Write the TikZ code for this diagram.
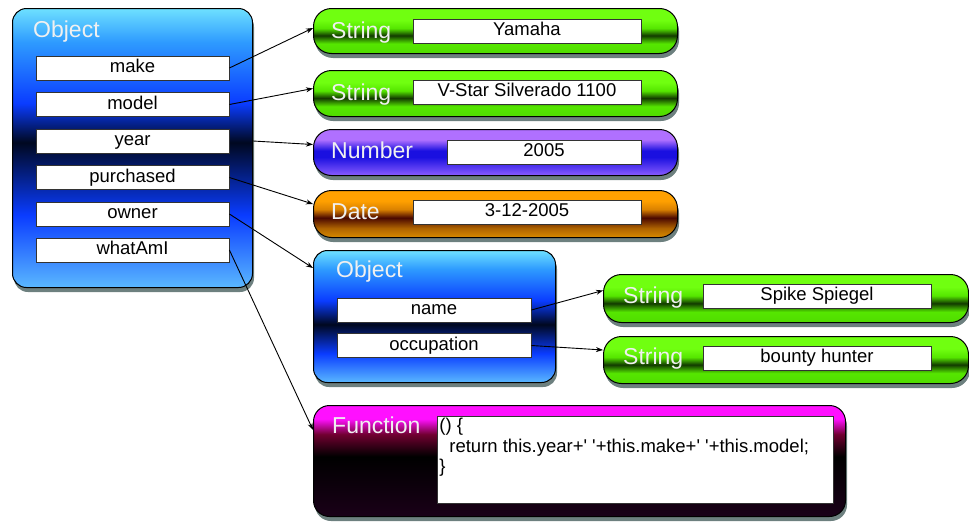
\documentclass[tikz,border=0pt]{standalone}
\usepackage{fontspec}
\setmainfont{Liberation Sans}
\usepackage{xcolor}
\definecolor{objtop}{HTML}{6EE0FF}
\definecolor{objhi}{HTML}{2E9BFF}
\definecolor{objmid}{HTML}{0A3CFF}
\definecolor{objdark}{HTML}{000820}
\definecolor{objlo}{HTML}{5AB8FF}
\definecolor{strtop}{HTML}{70FF10}
\definecolor{strmid}{HTML}{55E600}
\definecolor{strdark}{HTML}{123A00}
\definecolor{strlo}{HTML}{50DC00}
\definecolor{numtop}{HTML}{B070FF}
\definecolor{nummid}{HTML}{1A10E0}
\definecolor{numlo}{HTML}{8A5CFF}
\definecolor{datetop}{HTML}{FFA000}
\definecolor{datemid}{HTML}{4A0800}
\definecolor{datelo}{HTML}{D88A00}
\definecolor{funtop}{HTML}{FF10FF}
\definecolor{funmid}{HTML}{700030}
\definecolor{funlo}{HTML}{1A0018}
\definecolor{glow}{HTML}{2F4A48}
\usetikzlibrary{positioning,arrows.meta,shadows}

\pgfdeclareverticalshading{objglass}{100bp}{color(0bp)=(objlo); color(25bp)=(objlo);
  color(38bp)=(objmid); color(51bp)=(objdark); color(58bp)=(objmid); color(69bp)=(objhi);
  color(75bp)=(objtop); color(100bp)=(objtop)}
\pgfdeclareverticalshading{innerglass}{100bp}{color(0bp)=(objlo); color(25bp)=(objlo);
  color(36bp)=(objmid); color(47bp)=(objdark); color(56bp)=(objmid); color(68bp)=(objhi);
  color(75bp)=(objtop); color(100bp)=(objtop)}
\pgfdeclareverticalshading{strglass}{100bp}{color(0bp)=(strlo); color(25bp)=(strlo);
  color(36bp)=(strmid); color(45bp)=(strdark); color(53bp)=(strmid); color(62bp)=(strtop);
  color(75bp)=(strtop); color(100bp)=(strtop)}
\pgfdeclareverticalshading{numglass}{100bp}{color(0bp)=(numlo); color(25bp)=(numlo);
  color(45bp)=(nummid); color(52bp)=(nummid); color(64bp)=(numtop);
  color(75bp)=(numtop); color(100bp)=(numtop)}
\pgfdeclareverticalshading{dateglass}{100bp}{color(0bp)=(datelo); color(25bp)=(datelo);
  color(35bp)=(datelo!70!datemid); color(46bp)=(datemid); color(55bp)=(datetop!80!datemid);
  color(64bp)=(datetop); color(75bp)=(datetop); color(100bp)=(datetop)}
\pgfdeclareverticalshading{funglass}{100bp}{color(0bp)=(funlo); color(25bp)=(funlo);
  color(52bp)=(black); color(62bp)=(funmid); color(69bp)=(funtop);
  color(75bp)=(funtop); color(100bp)=(funtop)}

\tikzset{
  glassbox/.style={draw=black, line width=1pt, anchor=north west, inner sep=0pt,
    drop shadow={shadow xshift=1.5pt, shadow yshift=-4.5pt, fill=glow, opacity=.7}},
  objbox/.style={glassbox, rounded corners=14pt, shading=objglass},
  strbox/.style={glassbox, rounded corners=18pt, shading=strglass},
  boxtitle/.style={anchor=base west, inner sep=0pt, text=white!94!black,
    font=\fontsize{23}{27}\selectfont},
  fieldbox/.style={draw=black!80, line width=0.8pt, fill=white, inner sep=0pt,
    minimum height=24pt, text height=13pt, text depth=4pt,
    font=\fontsize{18.5}{20}\selectfont},
  link/.style={-{Stealth[length=7pt,width=5pt]}, line width=0.9pt}
}

\begin{document}
\begin{tikzpicture}[x=1pt, y=-1pt]
\useasboundingbox (0,0) rectangle (969,525);

% the motorcycle object
\node[objbox, minimum width=240pt, minimum height=279pt] (obj) at (12,8) {};
\node[boxtitle] (objlabel) at (33,37) {Object};
\foreach \f/\y in {make/68,model/104.5,year/141,purchased/177.5,owner/214,whatAmI/250}
  \node[fieldbox, minimum width=193pt] (\f) at (132.5,\y) {\f};

% values
\node[strbox, minimum width=364pt, minimum height=45pt] (str1) at (313,8) {};
\node[boxtitle] (str1label) at (331,38) {String};
\node[fieldbox, minimum width=228pt] (str1val) at (527,31) {Yamaha};

\node[strbox, minimum width=364pt, minimum height=46pt] (str2) at (313,70) {};
\node[boxtitle] (str2label) at (331,100) {String};
\node[fieldbox, minimum width=228pt] (str2val) at (527,92) {V-Star Silverado 1100};

\node[glassbox, rounded corners=18pt, shading=numglass, minimum width=364pt,
      minimum height=46pt] (num) at (313,129) {};
\node[boxtitle] (numlabel) at (331,158) {Number};
\node[fieldbox, minimum width=194pt] (numval) at (544,152) {2005};

\node[glassbox, rounded corners=18pt, shading=dateglass, minimum width=364pt,
      minimum height=47pt] (date) at (313,190) {};
\node[boxtitle] (datelabel) at (331,219) {Date};
\node[fieldbox, minimum width=228pt] (dateval) at (527,212) {3-12-2005};

% the owner object
\node[objbox, shading=innerglass, minimum width=242pt, minimum height=132pt] (obj2) at (313,250) {};
\node[boxtitle] (obj2label) at (336,277) {Object};
\node[fieldbox, minimum width=194pt] (name) at (434,310) {name};
\node[fieldbox, minimum width=194pt] (occupation) at (434,345.5) {occupation};

\node[strbox, minimum width=365pt, minimum height=48pt] (str3) at (603,274) {};
\node[boxtitle] (str3label) at (623,303) {String};
\node[fieldbox, minimum width=228pt] (str3val) at (817,296) {Spike Spiegel};

\node[strbox, minimum width=365pt, minimum height=47pt] (str4) at (603,336) {};
\node[boxtitle] (str4label) at (623,364) {String};
\node[fieldbox, minimum width=228pt] (str4val) at (817,358) {bounty hunter};

% the method
\node[glassbox, rounded corners=16pt, shading=funglass, minimum width=532pt,
      minimum height=111pt] (func) at (313,405) {};
\node[boxtitle] (funclabel) at (332,433) {Function};
\node[draw=black!80, line width=0.8pt, fill=white, anchor=north west, inner sep=2pt]
  (code) at (437,416) {\parbox[c][83pt][t]{392pt}{\fontsize{18.5}{20.5}\selectfont
    () \{\\
    \hspace*{10pt}return this.year+\textquotesingle\ \textquotesingle+this.make+\textquotesingle\ \textquotesingle+this.model;\\
    \}}};

% references
\draw[link] (make.east) -- ([yshift=3pt]str1.west);
\draw[link] (model.east) -- ([yshift=5pt]str2.west);
\draw[link] (year.east -| obj.east) -- ([yshift=8pt]num.west);
\draw[link] (purchased.east) -- ([yshift=10pt]date.west);
\draw[link] (owner.east) -- ([yshift=-18pt]obj2.north west);
\draw[link] (whatAmI.east) -- ([yshift=-25pt]func.north west);
\draw[link] (name.east) -- ([yshift=8pt]str3.west);
\draw[link] (occupation.east) -- ([yshift=10pt]str4.west);
\end{tikzpicture}
\end{document}
